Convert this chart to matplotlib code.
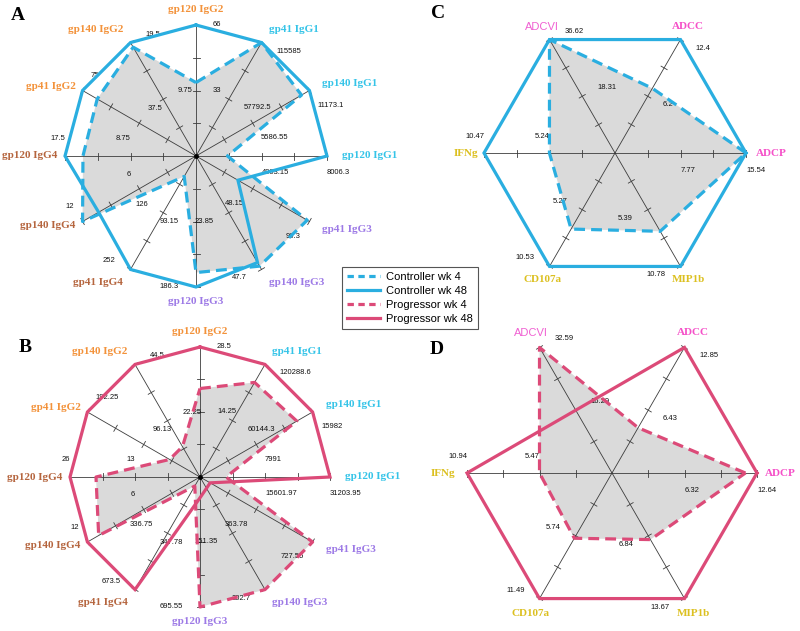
import numpy as np
import matplotlib.pyplot as plt
from matplotlib.lines import Line2D

# ---------------- data ----------------
ig_axes = ["gp120 IgG2", "gp41 IgG1", "gp140 IgG1", "gp120 IgG1", "gp41 IgG3", "gp140 IgG3",
           "gp120 IgG3", "gp41 IgG4", "gp140 IgG4", "gp120 IgG4", "gp41 IgG2", "gp140 IgG2"]

a_max_lbl = ["66", "115585", "11173.1", "8006.3", "96.3", "47.7",
             "186.3", "252", "12", "17.5", "75", "19.5"]
a_mid_lbl = ["33", "57792.5", "5586.55", "4003.15", "48.15", "23.85",
             "93.15", "126", "6", "8.75", "37.5", "9.75"]
a_ctrl_wk4 = [37.0, 115585, 10391, 1922, 94.4, 46.3, 165.8, 45.4, 12.0, 15.1, 65.3, 18.7]
a_ctrl_wk48 = [66, 115585, 11173.1, 8006.3, 35.6, 44.8, 186.3, 252, 10.3, 17.5, 75, 19.5]

b_max_lbl = ["28.5", "120288.6", "15982", "31203.95", "727.55", "302.7",
             "695.55", "673.5", "12", "26", "192.25", "44.5"]
b_mid_lbl = ["14.25", "60144.3", "7991", "15601.97", "363.78", "151.35",
             "347.78", "336.75", "6", "13", "96.13", "22.25"]
b_prog_wk4 = [19.4, 101042, 13745, 6241, 727.55, 302.7, 695.55, 53.9, 10.8, 20.8, 51.9, 12.0]
b_prog_wk48 = [28.5, 120288.6, 15982, 31203.95, 65.5, 30.3, 111.3, 673.5, 12, 26, 192.25, 44.5]

fx_axes = ["ADCP", "ADCC", "ADCVI", "IFNg", "CD107a", "MIP1b"]

c_max_lbl = ["15.54", "12.4", "36.62", "10.47", "10.53", "10.78"]
c_mid_lbl = ["7.77", "6.2", "18.31", "5.24", "5.27", "5.39"]
c_ctrl_wk4 = [15.54, 7.07, 36.62, 5.24, 7.06, 7.44]
c_ctrl_wk48 = [15.54, 12.4, 36.62, 10.47, 10.53, 10.78]

d_max_lbl = ["12.64", "12.85", "32.59", "10.94", "11.49", "13.67"]
d_mid_lbl = ["6.32", "6.43", "16.29", "5.47", "5.74", "6.84"]
d_prog_wk4 = [11.63, 4.63, 32.59, 5.47, 5.97, 7.25]
d_prog_wk48 = [12.64, 12.85, 16.3, 10.94, 11.49, 13.67]

legend_labels = ["Controller wk 4", "Controller wk 48", "Progressor wk 4", "Progressor wk 48"]

# ---------------- style ----------------
W, H = 800, 631
blue = "#2aaee0"
pink = "#dc4a78"
fill_col = "#dadada"
axis_col = "#3c3c3c"
sub_col = {"IgG1": "#35c4e8", "IgG2": "#f3923a", "IgG3": "#9d7ae6", "IgG4": "#b5653e"}
fx_col = {"ADCP": "#f550c8", "ADCC": "#f550c8", "ADCVI": "#f060d2",
          "IFNg": "#dcc020", "CD107a": "#dcc020", "MIP1b": "#dcc020"}
sans = "Liberation Sans"
serif = "Liberation Serif"

fig = plt.figure(figsize=(W / 100, H / 100), dpi=100)


def panel_axes(cx, cy, R, k=1.5):
    ax = fig.add_axes([(cx - k * R) / W, 1 - (cy + k * R) / H, 2 * k * R / W, 2 * k * R / H])
    ax.set_xlim(-k, k)
    ax.set_ylim(-k, k)
    ax.axis("off")
    ax.patch.set_alpha(0)
    return ax


def radar(ax, R, names, angles, max_lbl, mid_lbl, wk4, wk48, color, name_style,
          thresh, gap, gap_right, gap_left):
    th = np.deg2rad(angles)
    mx = np.array([float(s) for s in max_lbl])
    f4 = np.array(wk4) / mx
    f48 = np.array(wk48) / mx
    c, s = np.cos(th), np.sin(th)

    # filled week-4 polygon
    ax.fill(f4 * c, f4 * s, color=fill_col, lw=0, zorder=1)

    # spokes with quarter ticks
    tl = 3.5 / R
    for ci, si in zip(c, s):
        ax.plot([0, ci], [0, si], color=axis_col, lw=0.6, zorder=2, clip_on=False)
        for q in (0.25, 0.5, 0.75, 1.0):
            ax.plot([q * ci - tl * si, q * ci + tl * si], [q * si + tl * ci, q * si - tl * ci],
                    color=axis_col, lw=0.6, zorder=2, clip_on=False)

    # value labels, shifted clockwise from the spoke
    off = 17.0 / R
    for i in range(len(names)):
        px, py = s[i], -c[i]
        ha = "left" if (px > 0.01 or (abs(px) <= 0.01 and c[i] > 0)) else "right"
        for r, lab in ((1.0, max_lbl[i]), (0.5, mid_lbl[i])):
            ax.text(r * c[i] + off * px, r * s[i] + off * py, lab, fontsize=5.5, family=sans,
                    ha=ha, va="center", color="#111111", zorder=2.5)

    # polygons
    ax.plot(np.append(f4 * c, f4[0] * c[0]), np.append(f4 * s, f4[0] * s[0]), color=color,
            lw=2.3, ls=(0, (3.4, 1.9)), zorder=3, clip_on=False)
    ax.plot(np.append(f48 * c, f48[0] * c[0]), np.append(f48 * s, f48[0] * s[0]), color=color,
            lw=2.3, zorder=4, clip_on=False, solid_joinstyle="miter")

    # category names
    for i, nm in enumerate(names):
        if c[i] > 0.8:
            g = 1.0 + gap_right / R
        elif c[i] < -0.8:
            g = 1.0 + gap_left / R
        else:
            g = 1.0 + gap / R
        if c[i] > thresh:
            ha = "left"
        elif c[i] < -thresh:
            ha = "right"
        else:
            ha = "center"
        col, fam, wt = name_style(nm)
        ax.text(g * c[i], g * s[i], nm, color=col, family=fam, weight=wt, fontsize=8,
                ha=ha, va="center", zorder=6)


def ig_style(nm):
    return sub_col[nm.split()[1]], serif, "bold"


def fx_style(nm):
    if nm == "ADCVI":
        return fx_col[nm], sans, "normal"
    return fx_col[nm], serif, "bold"


ig_angles = [90 - 30 * i for i in range(len(ig_axes))]
fx_angles = [60 * i for i in range(len(fx_axes))]

axA = panel_axes(196, 156, 131)
radar(axA, 131, ig_axes, ig_angles, a_max_lbl, a_mid_lbl, a_ctrl_wk4, a_ctrl_wk48,
      blue, ig_style, 0.3, 15, 15, 8)
axA.plot([0], [0], "o", color="black", ms=2.5, zorder=5)

axB = panel_axes(200, 477, 130)
radar(axB, 130, ig_axes, ig_angles, b_max_lbl, b_mid_lbl, b_prog_wk4, b_prog_wk48,
      pink, ig_style, 0.3, 15, 15, 8)
axB.plot([0], [0], "o", color="black", ms=2.5, zorder=5)

axC = panel_axes(615, 153, 131)
radar(axC, 131, fx_axes, fx_angles, c_max_lbl, c_mid_lbl, c_ctrl_wk4, c_ctrl_wk48,
      blue, fx_style, 0.6, 15, 10, 6)

axD = panel_axes(612, 473, 145)
radar(axD, 145, fx_axes, fx_angles, d_max_lbl, d_mid_lbl, d_prog_wk4, d_prog_wk48,
      pink, fx_style, 0.6, 17, 8, 12)

# panel letters
for letter, (x, y) in zip("ABCD", [(18, 15), (25, 347), (438, 13), (437, 350)]):
    fig.text(x / W, 1 - y / H, letter, family=serif, weight="bold", fontsize=14,
             ha="center", va="center")

# legend
handles = [Line2D([], [], color=blue, lw=2.3, ls=(0, (2, 1.4))),
           Line2D([], [], color=blue, lw=2.3),
           Line2D([], [], color=pink, lw=2.3, ls=(0, (2, 1.4))),
           Line2D([], [], color=pink, lw=2.3)]
leg = fig.legend(handles, legend_labels, loc="upper left",
                 bbox_to_anchor=(342 / W, 1 - 267 / H), prop={"family": sans, "size": 8},
                 frameon=True, fancybox=False, edgecolor="#555555", framealpha=1,
                 handlelength=3.0, handletextpad=0.5, labelspacing=0.35, borderpad=0.45,
                 borderaxespad=0)
leg.get_frame().set_linewidth(0.8)

fig.savefig("out.png", dpi=100)
